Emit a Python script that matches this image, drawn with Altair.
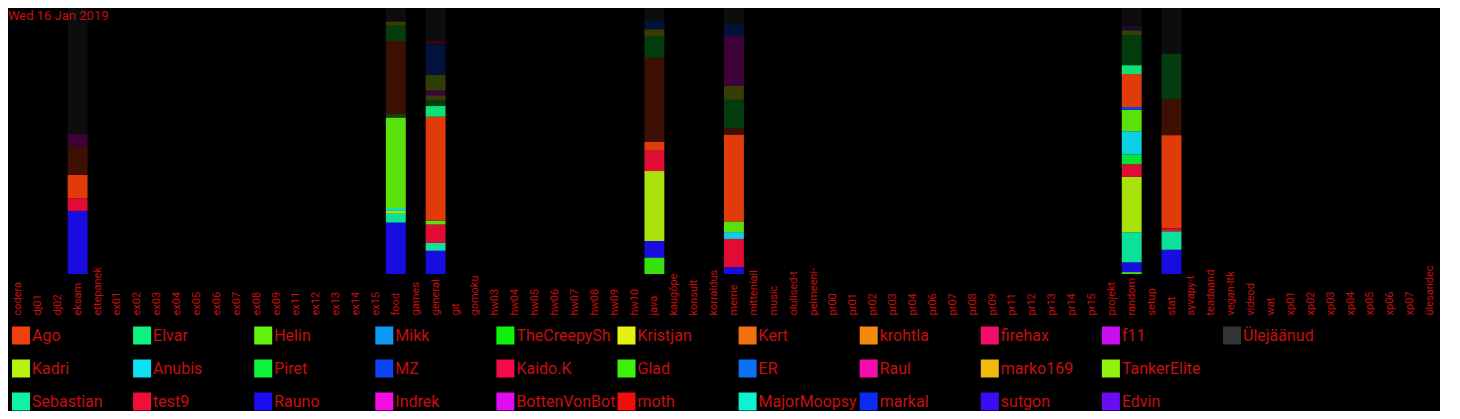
import altair as alt
import pandas as pd

title_text = "Wed 16 Jan 2019"

channels = ["codera", "dj01", "dj02", "eksam", "ettepanek", "ex01", "ex02", "ex03", "ex04",
            "ex05", "ex06", "ex07", "ex08", "ex09", "ex11", "ex12", "ex13", "ex14", "ex15",
            "food", "games", "general", "git", "gomoku", "hw03", "hw04", "hw05", "hw06",
            "hw07", "hw08", "hw09", "hw10", "java", "kaugõpe", "konsult", "korraldus",
            "meme", "mitteniall", "music", "olulised-t", "pelmeeni-", "pr00", "pr01", "pr02",
            "pr03", "pr04", "pr06", "pr07", "pr08", "pr09", "pr11", "pr12", "pr13", "pr14",
            "pr15", "projekt", "random", "setup", "stat", "syvapy-t", "teadaand", "vegan-ltk",
            "videod", "wat", "xp01", "xp02", "xp03", "xp04", "xp05", "xp06", "xp07", "ülesandec"]

# legend users, in reading order (column by column, 3 rows)
users = ["Ago", "Kadri", "Sebastian", "Elvar", "Anubis", "test9", "Helin", "Piret", "Rauno",
         "Mikk", "MZ", "Indrek", "TheCreepySh", "Kaido.K", "BottenVonBot", "Kristjan", "Glad",
         "moth", "Kert", "ER", "MajorMoopsy", "krohtla", "Raul", "markal", "firehax",
         "marko169", "sutgon", "f11", "TankerElite", "Edvin", "Ülejäänud"]
user_colors = ["#f2400d", "#b5f20d", "#0df2a8", "#0df280", "#0de0f2", "#f20d3a", "#60f20d",
               "#0df23a", "#1a0df2", "#0d9af2", "#0d45f2", "#f20de0", "#10f20d", "#f20d4a",
               "#e00df2", "#e5f20d", "#3cf20d", "#f20d0d", "#f2700d", "#0d70f2", "#0df2d0",
               "#f28a0d", "#f20dac", "#0d2af2", "#f20d6a", "#f2b80d", "#3a0df2", "#cc0df2",
               "#90f20d", "#6a0df2", "#333333"]

# stacked segments per channel, bottom to top; dim = 1 for the faded (earlier) part
eksam_users = ["Rauno", "test9", "Ago", "Ago", "Indrek", "Ülejäänud"]
eksam_dim = [0, 0, 0, 1, 1, 1]
eksam_values = [65, 13, 24, 29, 13, 130]

food_users = ["Rauno", "Sebastian", "Kadri", "MajorMoopsy", "Helin", "Helin", "Ago", "Piret",
              "Kristjan", "Ülejäänud"]
food_dim = [0, 0, 0, 0, 0, 1, 1, 1, 1, 1]
food_values = [53, 9, 3, 3, 93, 4, 75, 16, 4, 14]

general_users = ["Rauno", "Sebastian", "test9", "Helin", "Ago", "Elvar", "Piret", "Kristjan",
                 "Indrek", "Kadri", "MZ", "test9", "Ülejäänud"]
general_dim = [0, 0, 0, 0, 0, 0, 1, 1, 1, 1, 1, 1, 1]
general_values = [24, 8, 19, 4, 107, 11, 6, 5, 5, 16, 32, 3, 34]

java_users = ["Glad", "Rauno", "Kadri", "test9", "Ago", "Ago", "Piret", "Kristjan", "MZ",
              "Ülejäänud"]
java_dim = [0, 0, 0, 0, 0, 1, 1, 1, 1, 1]
java_values = [17, 17, 72, 21, 9, 87, 22, 7, 9, 13]

meme_users = ["Rauno", "test9", "Anubis", "Helin", "Ago", "Ago", "Piret", "Kristjan", "Indrek",
              "MZ", "Ülejäänud"]
meme_dim = [0, 0, 0, 0, 0, 1, 1, 1, 1, 1, 1]
meme_values = [7, 29, 7, 11, 89, 7, 29, 14, 51, 12, 17]

random_users = ["Glad", "Rauno", "Sebastian", "Kadri", "test9", "Piret", "Anubis", "Helin", "MZ",
                "Ago", "Elvar", "Piret", "Kristjan", "MZ", "Indrek", "Ülejäänud"]
random_dim = [0, 0, 0, 0, 0, 0, 0, 0, 0, 0, 0, 1, 1, 1, 1, 1]
random_values = [2, 10, 31, 57, 13, 10, 24, 22, 3, 34, 9, 31, 5, 2, 2, 19]

stat_users = ["Rauno", "Sebastian", "test9", "Ago", "Ago", "Piret", "Ülejäänud"]
stat_dim = [0, 0, 0, 0, 1, 1, 1]
stat_values = [25, 19, 3, 96, 37, 47, 47]

bars = [("eksam", eksam_users, eksam_dim, eksam_values),
        ("food", food_users, food_dim, food_values),
        ("general", general_users, general_dim, general_values),
        ("java", java_users, java_dim, java_values),
        ("meme", meme_users, meme_dim, meme_values),
        ("random", random_users, random_dim, random_values),
        ("stat", stat_users, stat_dim, stat_values)]

rows = []
for ch, us, ds, vs in bars:
    for i, (u, d, v) in enumerate(zip(us, ds, vs)):
        rows.append({"channel": ch, "user": u, "dim": d, "value": v, "pos": i})
df = pd.DataFrame(rows)

# legend domain laid out row by row in an 11-column grid, padded with one blank slot
ncols, nrows = 11, 3
legend_domain, legend_range = [], []
for r in range(nrows):
    for c in range(ncols):
        k = c * nrows + r
        if k < len(users):
            legend_domain.append(users[k])
            legend_range.append(user_colors[k])
        elif r < nrows - 1:
            legend_domain.append(" ")
            legend_range.append("#000000")

FONT = "Roboto"
TXT = "#c80e0e"

bars_chart = alt.Chart(df).mark_bar(strokeWidth=0).encode(
    x=alt.X("channel:N", sort=channels,
            scale=alt.Scale(domain=channels, paddingInner=0, paddingOuter=0),
            axis=alt.Axis(title=None, ticks=False, domain=False, labelAngle=270,
                          labelAlign="left", labelBaseline="middle", labelPadding=41,
                          labelFont=FONT, labelFontSize=11, labelColor=TXT,
                          labelLimit=60, labelOverlap=False)),
    y=alt.Y("value:Q", stack="normalize", scale=alt.Scale(domain=[0, 1], nice=False), axis=None),
    color=alt.Color("user:N",
                    scale=alt.Scale(domain=legend_domain, range=legend_range),
                    legend=alt.Legend(orient="none", legendX=4, legendY=318.5, columns=ncols,
                                      direction="horizontal", gridAlign="all",
                                      symbolType="square", symbolSize=324,
                                      symbolStrokeWidth=0, symbolOpacity=1, symbolLimit=40,
                                      labelFont=FONT, labelFontSize=16, labelColor=TXT,
                                      labelLimit=110, labelOffset=2, columnPadding=2.1,
                                      rowPadding=15, title=None, padding=0)),
    opacity=alt.Opacity("dim:N", scale=alt.Scale(domain=[0, 1], range=[0.93, 0.25]),
                        legend=None),
    order=alt.Order("pos:Q"),
)

title_layer = alt.Chart(pd.DataFrame({"t": [title_text]})).mark_text(
    align="left", baseline="alphabetic", font=FONT, fontSize=13, color=TXT
).encode(text="t:N", x=alt.value(0), y=alt.value(12))

chart = alt.layer(bars_chart, title_layer).properties(
    width=1432, height=266, padding=0, background="black"
).configure_view(stroke=None)

chart.save("out.html", embed_options={"renderer": "svg", "actions": False})
